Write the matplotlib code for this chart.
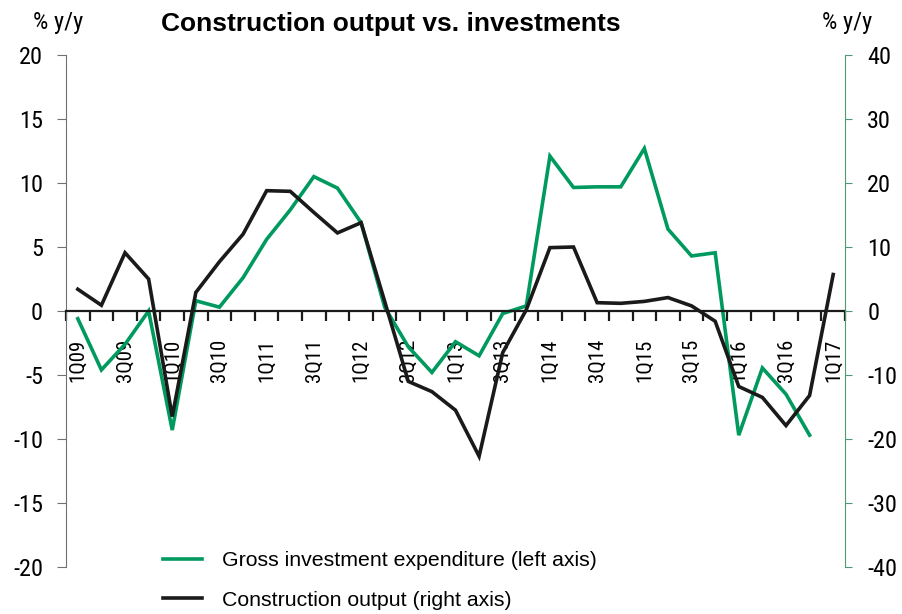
import matplotlib
matplotlib.use("Agg")
import matplotlib.pyplot as plt
import numpy as np

plt.rcParams['font.family'] = ['Roboto Condensed', 'DejaVu Sans']
plt.rcParams['axes.unicode_minus'] = False

# quarters 1Q09 .. 1Q17
quarters = ["%dQ%02d" % (q, y) for y in range(9, 18) for q in range(1, 5)][:33]

# gross investment expenditure, % y/y (left axis)
invest = [-0.6, -4.6, -2.6, 0.0, -9.3, 0.8, 0.3, 2.6, 5.6, 7.9, 10.5, 9.6, 6.9,
          0.3, -2.8, -4.8, -2.4, -3.5, -0.2, 0.4, 12.1, 9.65, 9.7, 9.7, 12.7,
          6.4, 4.3, 4.55, -9.7, -4.45, -6.5, -9.7, np.nan]

# construction output, % y/y (right axis)
constr = [3.4, 0.9, 9.1, 5.0, -16.5, 2.9, 7.7, 12.0, 18.8, 18.7, 15.4, 12.2, 13.8,
          1.5, -11.0, -12.6, -15.5, -22.7, -6.5, 0.2, 9.9, 10.0, 1.3, 1.2, 1.5,
          2.1, 0.8, -1.6, -11.8, -13.5, -17.9, -13.2, 5.7]

green = '#009a5f'
axgreen = '#4f9a72'

fig = plt.figure(figsize=(9.02, 6.14), dpi=100)
ax = fig.add_axes([66/902, 1-567/614, (845-66)/902, (567-55)/614])
ax2 = ax.twinx()

x = np.arange(len(quarters))
l1, = ax.plot(x, invest, color=green, lw=2.6, solid_joinstyle='miter')
l2, = ax2.plot(x, constr, color='#1a1a1a', lw=2.6, solid_joinstyle='miter')

ax.set_xlim(-0.5, len(quarters)-0.5)
ax.set_ylim(-20, 20)
ax2.set_ylim(-40, 40)
ax.set_yticks(range(-20, 21, 5))
ax2.set_yticks(range(-40, 41, 10))

for a in (ax, ax2):
    a.spines['top'].set_visible(False)
ax.spines['right'].set_visible(False)
ax2.spines['left'].set_visible(False)
ax2.spines['bottom'].set_visible(False)
ax.spines['left'].set_color('#707070')
ax2.spines['right'].set_color(axgreen)
ax.spines['bottom'].set_position(('data', 0))
ax.spines['bottom'].set_linewidth(1.6)
ax.spines['bottom'].set_color('#1a1a1a')

ax.tick_params(axis='y', labelsize=17.5, length=6.5, pad=10, color='#707070')
ax2.tick_params(axis='y', labelsize=17.5, length=5, pad=11, color=axgreen)

# ticks on category boundaries, labels on every second quarter
ax.set_xticks(np.arange(len(quarters)+1) - 0.5, minor=True)
ax.set_xticks(x[::2])
ax.set_xticklabels(quarters[::2], rotation=90, va='top', ha='center')
ax.tick_params(axis='x', which='minor', length=7, width=1.6, color='#1a1a1a', direction='out')
ax.tick_params(axis='x', which='major', length=0, pad=20, labelsize=15)

fig.text(391/902, 1-24/614, 'Construction output vs. investments', ha='center', va='center',
         fontsize=19, fontweight='bold', family=['Liberation Sans', 'DejaVu Sans'])
fig.text(58/902, 1-22/614, '% y/y', ha='center', va='center', fontsize=17.5)
fig.text(847/902, 1-22/614, '% y/y', ha='center', va='center', fontsize=17.5)

fig.legend([l1, l2], ['Gross investment expenditure (left axis)', 'Construction output (right axis)'],
           loc='center left', bbox_to_anchor=(163/902, 1-580.5/614), frameon=False,
           borderpad=0, borderaxespad=0, prop={'family': ['Liberation Sans', 'DejaVu Sans'], 'size': 15.3},
           handlelength=1.84, handletextpad=0.94, labelspacing=0.95)

fig.savefig('out.png', dpi=100)
